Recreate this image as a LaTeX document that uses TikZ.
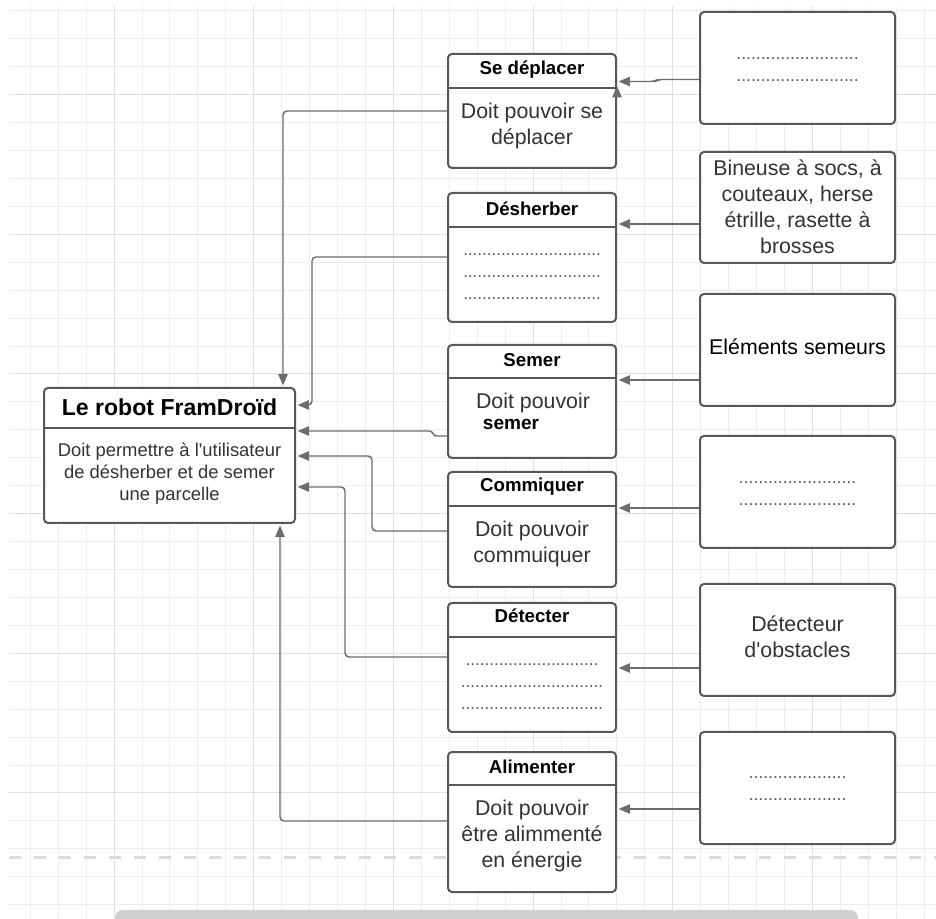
\documentclass[tikz,border=0pt]{standalone}
\usepackage{fontspec}
\setmainfont{Liberation Sans}
\usepackage{xcolor}
\usetikzlibrary{arrows.meta}

\definecolor{boxgray}{RGB}{88,88,88}
\definecolor{linkgray}{RGB}{108,108,108}
\definecolor{txtgray}{RGB}{51,51,51}
\definecolor{gridminor}{RGB}{237,237,237}
\definecolor{gridmajor}{RGB}{224,224,224}

\newcommand{\pointille}[1]{\foreach\i in {1,...,#1}{.}}

\tikzset{
  frame/.style={draw=boxgray, line width=1.5pt, rounded corners=3pt, fill=white, inner sep=0pt},
  midbox/.style={frame, minimum width=126pt},
  sidebox/.style={frame, minimum width=146.25pt, minimum height=84pt},
  divider/.style={draw=boxgray, line width=1.5pt},
  link/.style={draw=linkgray, line width=1.1pt, rounded corners=3pt, -{Triangle[length=8.5pt,width=7pt]}, shorten >=1.2pt},
  head/.style={font=\fontsize{14}{17}\selectfont\bfseries, text=black, inner sep=0pt},
  body/.style={font=\fontsize{16}{19.5}\selectfont, text=txtgray, align=center, inner sep=0pt},
  middots/.style={font=\fontsize{12.8}{16.5}\selectfont, text=boxgray, align=center, inner sep=0pt},
  sidedots/.style={font=\fontsize{13.2}{16.5}\selectfont, text=boxgray, align=center, inner sep=0pt},
}

\begin{document}
\begin{tikzpicture}[x=0.75pt,y=0.75pt,yscale=-1,xscale=1]
    \useasboundingbox (0,0) rectangle (936,919);

    %Grid
    \foreach \x in {30.33,58.26,...,936} \draw [gridminor, line width=0.75pt] (\x,6) -- (\x,919);
    \foreach \y in {10.9,38.83,...,919} \draw [gridminor, line width=0.75pt] (9,\y) -- (936,\y);
    \foreach \x in {114.1,253.75,...,936} \draw [gridmajor, line width=0.75pt] (\x,6) -- (\x,919);
    \foreach \y in {94.7,234.35,...,919} \draw [gridmajor, line width=0.75pt] (9,\y) -- (936,\y);
    %Page break and scroll bar
    \draw [gray!28, line width=2.25pt, dash pattern=on 9pt off 9.75pt] (9,857) -- (936,857);
    \fill [gray!38, rounded corners=6pt] (115,910) rectangle (858,935);

    %Main block
    \node [frame, minimum width=188.25pt, minimum height=101.25pt] (robot) at (169.5,455.5) {};
    \draw [divider] (robot.west |- 0,428) -- (robot.east |- 0,428);
    \node [font=\fontsize{17.3}{20}\selectfont\bfseries, inner sep=0pt] (robot-h) at (169.5,407) {Le robot FramDroïd};
    \node [body, font=\fontsize{13.8}{16.5}\selectfont] (robot-b) at (169.5,474) {Doit permettre à l\textquotesingle utilisateur\\de désherber et de semer\\une parcelle};

    %Functions
    \node [midbox, minimum height=85.5pt] (sedep) at (532,111) {};
    \draw [divider] (sedep.west |- 0,88) -- (sedep.east |- 0,88);
    \node [head] (sedep-h) at (532,70) {Se déplacer};
    \node [body] (sedep-b) at (532,126) {Doit pouvoir se\\déplacer};

    \node [midbox, minimum height=96.75pt] (desherb) at (532,257.5) {};
    \draw [divider] (desherb.west |- 0,227) -- (desherb.east |- 0,227);
    \node [head] (desherb-h) at (532,209) {Désherber};
    \node [middots] (desherb-b) at (532,277) {\pointille{29}\\\pointille{29}\\\pointille{29}};

    \node [midbox, minimum height=84.75pt] (semer) at (532,401.5) {};
    \draw [divider] (semer.west |- 0,378) -- (semer.east |- 0,378);
    \node [head] (semer-h) at (532,360) {Semer};
    \node [body] (semer-b) at (533,403) {Doit pouvoir};
    \node [head, font=\fontsize{14.3}{17}\selectfont\bfseries] (semer-c) at (511,424) {semer};

    \node [midbox, minimum height=86.25pt] (commun) at (532,529.5) {};
    \draw [divider] (commun.west |- 0,506) -- (commun.east |- 0,506);
    \node [head] (commun-h) at (532,487) {Commiquer};
    \node [body] (commun-b) at (532,544) {Doit pouvoir\\commuiquer};

    \node [midbox, minimum height=96.75pt] (detect) at (532,667.5) {};
    \draw [divider] (detect.west |- 0,637) -- (detect.east |- 0,637);
    \node [head] (detect-h) at (532,616) {Détecter};
    \node [middots] (detect-b) at (532,686.5) {\pointille{28}\\\pointille{30}\\\pointille{30}};

    \node [midbox, minimum height=105pt] (alim) at (532,822) {};
    \draw [divider] (alim.west |- 0,785) -- (alim.east |- 0,785);
    \node [head] (alim-h) at (532,767) {Alimenter};
    \node [body] (alim-b) at (532,836) {Doit pouvoir\\être alimmenté\\en énergie};

    %Solutions
    \node [sidebox] (sol1) at (797.5,68) {};
    \node [sidedots] (sol1-t) at (797.5,70) {\pointille{25}\\\pointille{25}};
    \node [sidebox, minimum height=83.25pt] (sol2) at (797.5,207.5) {};
    \node [body] (sol2-t) at (797.5,207) {Bineuse à socs, à\\couteaux, herse\\étrille, rasette à\\brosses};
    \node [sidebox] (sol3) at (797.5,350) {};
    \node [body, text=black] (sol3-t) at (797.5,347) {Eléments semeurs};
    \node [sidebox] (sol4) at (797.5,492) {};
    \node [sidedots] (sol4-t) at (797.5,494) {\pointille{24}\\\pointille{24}};
    \node [sidebox] (sol5) at (797.5,640) {};
    \node [body] (sol5-t) at (797.5,637) {Détecteur\\d\textquotesingle obstacles};
    \node [sidebox] (sol6) at (797.5,788) {};
    \node [sidedots] (sol6-t) at (797.5,789) {\pointille{20}\\\pointille{20}};

    %Solutions to functions
    \draw [link] (sol1.west |- 0,79.5) -- (658,79.5) -- (655,81.5) -- (sedep.east |- 0,81.5);
    \draw [link] (sol2.west |- 0,224) -- (desherb.east |- 0,224);
    \draw [link] (sol3.west |- 0,380) -- (semer.east |- 0,380);
    \draw [link] (sol4.west |- 0,508) -- (commun.east |- 0,508);
    \draw [link] (sol5.west |- 0,668) -- (detect.east |- 0,668);
    \draw [link] (sol6.west |- 0,809) -- (alim.east |- 0,809);
    \draw [link, shorten >=0pt] (sedep.east |- 0,96) -- (sedep.east |- 0,86);

    %Functions to main block
    \draw [link] (sedep.west |- 0,111) -- (283,111) -- (robot.north -| 283,0);
    \draw [link] (desherb.west |- 0,257) -- (312,257) -- (312,405) -- (robot.east |- 0,405);
    \draw [link, rounded corners=2pt] (semer.west |- 0,436) -- (434,436) -- (432,431) -- (robot.east |- 0,431);
    \draw [link] (commun.west |- 0,531) -- (372,531) -- (372,456) -- (robot.east |- 0,456);
    \draw [link] (detect.west |- 0,657) -- (345,657) -- (345,487) -- (robot.east |- 0,487);
    \draw [link] (alim.west |- 0,821) -- (280,821) -- (robot.south -| 280,0);

\end{tikzpicture}
\end{document}
